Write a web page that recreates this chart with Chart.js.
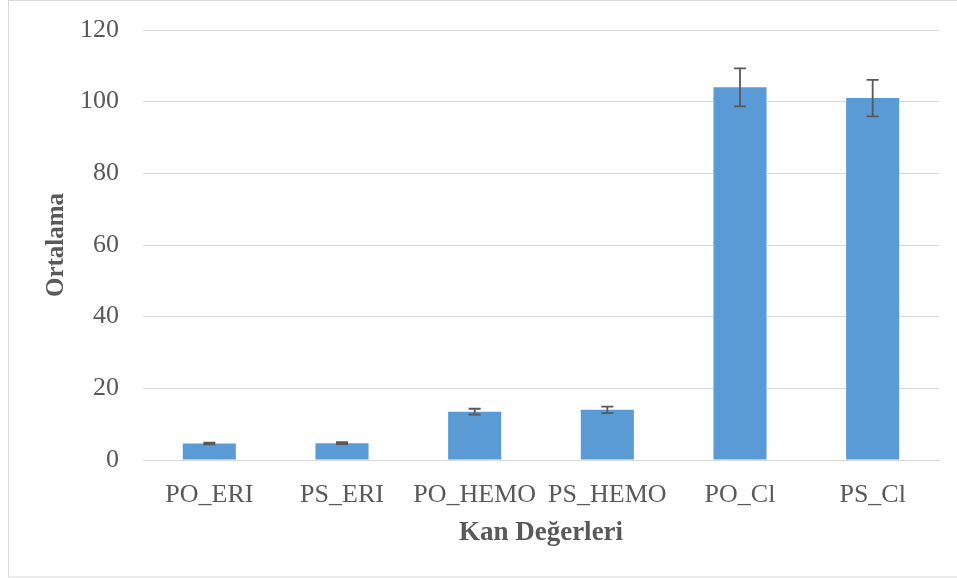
<!DOCTYPE html>
<html>
<head>
<meta charset="utf-8">
<script src="https://cdn.jsdelivr.net/npm/chart.js@4/dist/chart.umd.min.js"></script>
<style>
  html, body { margin: 0; padding: 0; background: #fff; }
  #wrap { width: 957px; height: 578px; position: relative; }
</style>
</head>
<body>
<div id="wrap"><canvas id="kanChart"></canvas></div>
<script>
// values
const categories = ['PO_ERI', 'PS_ERI', 'PO_HEMO', 'PS_HEMO', 'PO_Cl', 'PS_Cl'];
const means = [4.6, 4.7, 13.5, 14.0, 104.0, 101.0];
const errors = [0.25, 0.25, 0.8, 0.9, 5.3, 5.1];
const yTicks = [0, 20, 40, 60, 80, 100, 120];

const fontFamily = '"Liberation Serif", "Times New Roman", serif';
const textColor = '#595959';
const gridColor = '#d9d9d9';

// draws the outer frame like the excel chart box
const framePlugin = {
    id: 'frame',
    beforeDraw(chart) {
        const ctx = chart.ctx;
        ctx.save();
        ctx.fillStyle = '#fff';
        ctx.fillRect(0, 0, chart.width, chart.height);
        ctx.strokeStyle = gridColor;
        ctx.lineWidth = 1;
        ctx.strokeRect(8.5, 0.5, chart.width, chart.height - 1.5);
        ctx.restore();
    }
};

// error bars from the errors array, through the y scale
const errorBarPlugin = {
    id: 'errorBars',
    afterDatasetsDraw(chart) {
        const ctx = chart.ctx;
        const y = chart.scales.y;
        const meta = chart.getDatasetMeta(0);
        ctx.save();
        ctx.strokeStyle = '#595959';
        ctx.lineWidth = 1.8;
        meta.data.forEach((bar, i) => {
            const top = y.getPixelForValue(means[i] + errors[i]);
            const bot = y.getPixelForValue(means[i] - errors[i]);
            const x = bar.x;
            ctx.beginPath();
            ctx.moveTo(x, top);
            ctx.lineTo(x, bot);
            ctx.moveTo(x - 6, top);
            ctx.lineTo(x + 6, top);
            ctx.moveTo(x - 6, bot);
            ctx.lineTo(x + 6, bot);
            ctx.stroke();
        });
        ctx.restore();
    }
};

const ctx = document.getElementById('kanChart');
new Chart(ctx, {
    type: 'bar',
    data: {
        labels: categories,
        datasets: [{
            label: 'Ortalama',
            data: means,
            backgroundColor: '#5b9bd5',
            borderWidth: 0,
            categoryPercentage: 1,
            barPercentage: 0.4
        }]
    },
    options: {
        responsive: true,
        maintainAspectRatio: false,
        animation: false,
        layout: { padding: { left: 40, right: 18, top: 30, bottom: 18 } },
        plugins: {
            legend: { display: false },
            tooltip: { enabled: false }
        },
        scales: {
            x: {
                grid: { display: false },
                border: { display: true, color: gridColor, width: 1 },
                ticks: {
                    color: textColor,
                    padding: 12,
                    maxRotation: 0,
                    autoSkip: false,
                    font: { family: fontFamily, size: 26 }
                },
                title: {
                    display: true,
                    text: 'Kan Değerleri',
                    color: textColor,
                    padding: { top: 0, bottom: 11 },
                    font: { family: fontFamily, size: 27, weight: 'bold' }
                },
                afterFit(scale) { scale.height = 100; }
            },
            y: {
                min: 0,
                max: 120,
                afterBuildTicks(scale) {
                    scale.ticks = yTicks.map(v => ({ value: v }));
                },
                grid: { color: gridColor, lineWidth: 1, drawTicks: false },
                border: { display: false },
                ticks: {
                    color: textColor,
                    padding: 24,
                    font: { family: fontFamily, size: 26 }
                },
                title: {
                    display: true,
                    text: 'Ortalama',
                    color: textColor,
                    padding: { top: 2, bottom: 0 },
                    font: { family: fontFamily, size: 25, weight: 'bold' }
                },
                afterFit(scale) {
                    scale.width = 103;
                    scale.paddingTop = 0;
                    scale.paddingBottom = 0;
                }
            }
        }
    },
    plugins: [framePlugin, errorBarPlugin]
});
</script>
</body>
</html>
